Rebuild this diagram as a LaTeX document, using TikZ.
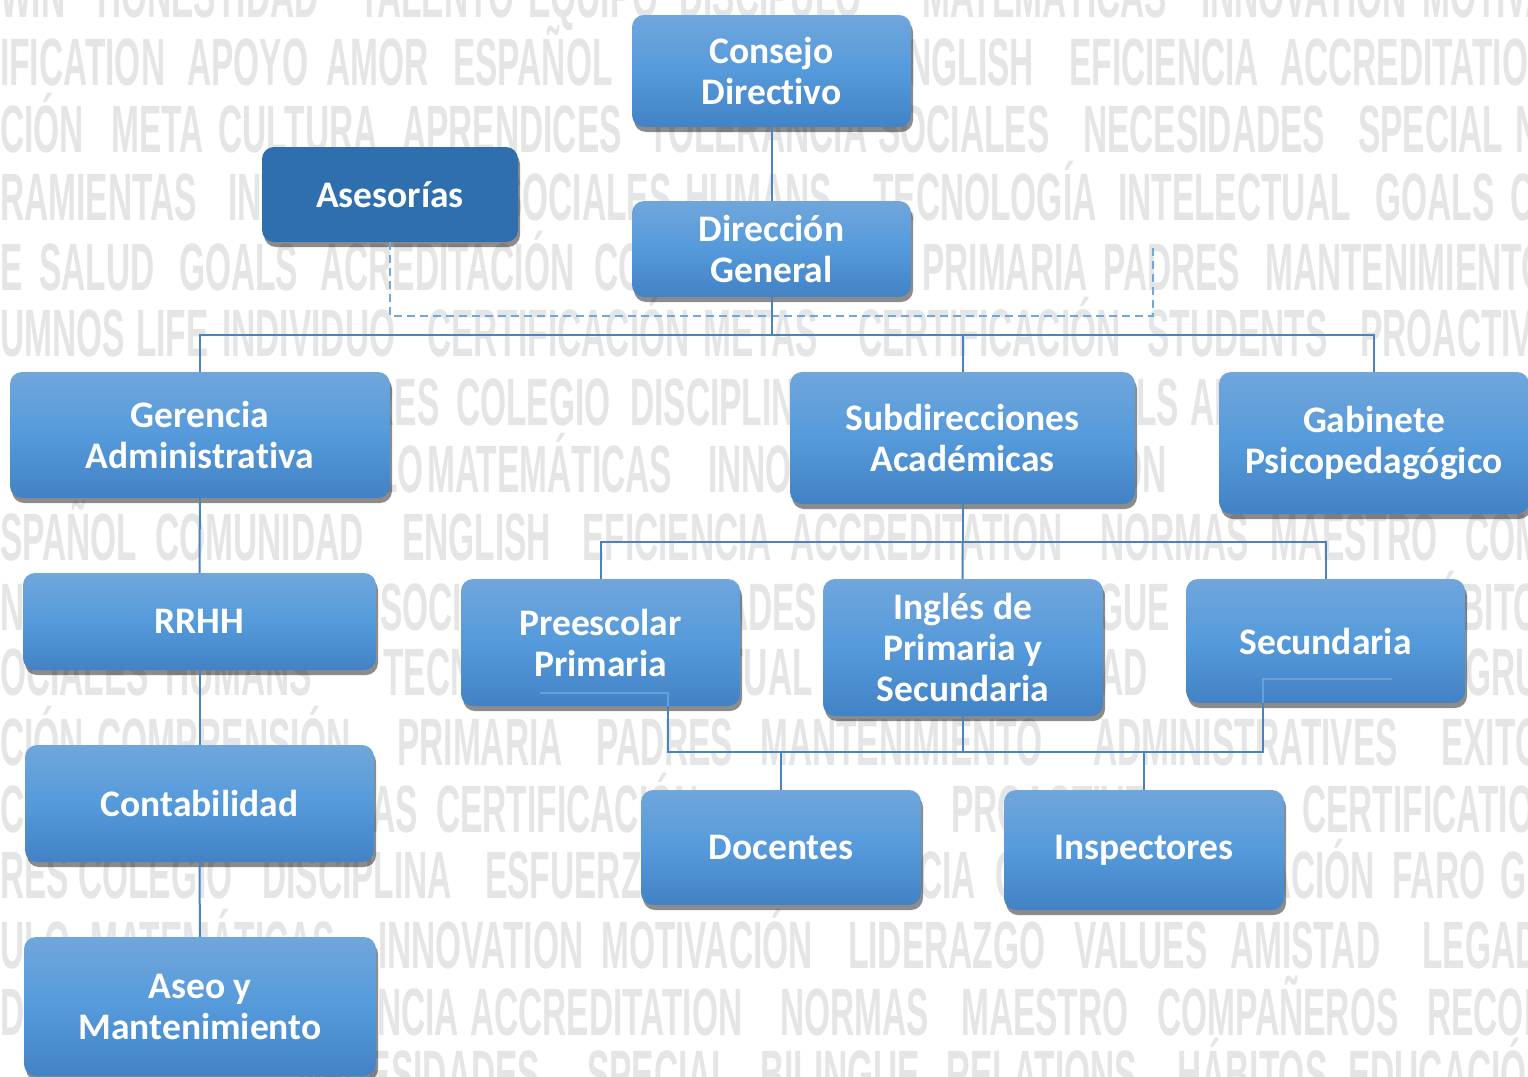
\documentclass[tikz,border=0pt]{standalone}
\usepackage{fontspec}
\usepackage{xcolor}
\usepackage{tikz}
\usetikzlibrary{positioning,shadows}

\newfontfamily\boxfont[Ligatures=NoCommon]{Carlito}
\newfontfamily\wallfont[FakeStretch=0.5]{Liberation Sans Bold}

\definecolor{boxtop}{HTML}{70A6DB}
\definecolor{boxmid}{HTML}{559ADB}
\definecolor{boxbot}{HTML}{4282C5}
\definecolor{advblue}{HTML}{2F6FAE}
\definecolor{linkblue}{HTML}{4A84BE}
\definecolor{dashblue}{HTML}{6FA8DC}
\definecolor{wallgray}{HTML}{E5E5E5}

\begin{document}
\begin{tikzpicture}[x=1pt,y=-1pt]
  \tikzstyle{unit}=[rounded corners=12pt,top color=boxtop,bottom color=boxbot,middle color=boxmid,
    text=white,align=center,inner sep=0pt,font=\boxfont\bfseries\fontsize{37.5}{41}\selectfont,
    drop shadow={shadow xshift=2pt,shadow yshift=-5pt,fill=black,opacity=0.45}]
  \tikzstyle{advice}=[rounded corners=12pt,fill=advblue,
    text=white,align=center,inner sep=0pt,font=\boxfont\bfseries\fontsize{37.5}{41}\selectfont,
    drop shadow={shadow xshift=2pt,shadow yshift=-5pt,fill=black,opacity=0.45}]
  \tikzstyle{link}=[draw=linkblue,line width=2pt]
  \tikzstyle{softlink}=[draw=dashblue,line width=2.6pt,dash pattern=on 8pt off 5pt]
  \tikzstyle{stub}=[draw=boxtop,line width=1.6pt,draw opacity=0.8]
  \tikzstyle{wall}=[anchor=base west,inner sep=0pt,text=wallgray,font=\wallfont\fontsize{67}{67}\selectfont]

  \useasboundingbox (0,0) rectangle (1528,1076);
  \fill[white] (0,0) rectangle (1528,1076);

  % words in the background
  \foreach \b/\row in {
    17/{0/WIN,97/HONESTIDAD,359/TALENTO,528/EQUIPO,679/DISCIPULO,922/MATEMÁTICAS,1201/INNOVATION,1422/MOTIVACIÓN},
    85/{0/IFICATION,187/APOYO,326/AMOR,453/ESPAÑOL,640/COMUNIDAD,885/ENGLISH,1069/EFICIENCIA,1280/ACCREDITATION},
    152/{0/CIÓN,111/META,218/CULTURA,402/APRENDICES,648/TOLERANCIA,878/SOCIALES,1083/NECESIDADES,1358/SPECIAL,1515/NORMAS},
    220/{0/RAMIENTAS,228/INTELIGENCIA,500/SOCIALES,685/HUMANS,873/TECNOLOGÍA,1118/INTELECTUAL,1375/GOALS,1510/CALIDAD},
    290/{0/E,39/SALUD,179/GOALS,320/ACREDITACIÓN,594/COMPRENSIÓN,922/PRIMARIA,1103/PADRES,1265/MANTENIMIENTO},
    356/{0/UMNOS,136/LIFE,222/INDIVIDUO,427/CERTIFICACIÓN,703/METAS,858/CERTIFICACIÓN,1147/STUDENTS,1360/PROACTIVE},
    425/{280/VALORES,456/COLEGIO,630/DISCIPLINA,1060/GOALS,1190/AMISTAD},
    492/{260/CÁLCULO,427/MATEMÁTICAS,708/INNOVATION,955/MOTIVACIÓN},
    560/{0/SPAÑOL,155/COMUNIDAD,402/ENGLISH,582/EFICIENCIA,790/ACCREDITATION,1100/NORMAS,1270/MAESTRO,1465/COMPAÑEROS},
    630/{0/N,380/SOCIALES,575/NECESIDADES,845/SPECIAL,1010/BILINGUE,1200/RELATIONS,1412/HÁBITOS},
    695/{0/OCIALES,165/HUMANS,383/TECNOLOGÍA,580/INTELECTUAL,997/CALIDAD,1465/GRUPO},
    765/{0/CIÓN,97/COMPRENSIÓN,397/PRIMARIA,596/PADRES,760/MANTENIMIENTO,1093/ADMINISTRATIVES,1441/EXITO},
    832/{0/C,303/METAS,436/CERTIFICACIÓN,951/PROACTIVE,1302/CERTIFICATION},
    898/{0/RES,78/COLEGIO,262/DISCIPLINA,485/ESFUERZO,760/EXCELENCIA,995/CALIDAD,1172/EDUCACIÓN,1392/FARO,1500/GRUPO},
    968/{0/ULO,90/MATEMÁTICAS,378/INNOVATION,601/MOTIVACIÓN,848/LIDERAZGO,1074/VALUES,1230/AMISTAD,1422/LEGADO},
    1035/{0/DA,269/EFICIENCIA,470/ACCREDITATION,780/NORMAS,961/MAESTRO,1157/COMPAÑEROS,1427/RECONOCIMIENTO},
    1097/{298/NECESIDADES,587/SPECIAL,760/BILINGUE,946/RELATIONS,1177/HÁBITOS,1348/EDUCACIÓN}}
    \foreach \x/\w in \row
      \node[wall] (word-\b-\x) at (\x,\b) {\w};

  \node[unit,minimum width=279pt,minimum height=112pt] (cd) at (771.5,71) {Consejo\\Directivo};
  \node[advice,minimum width=256pt,minimum height=95pt] (as) at (390,194.5) {Asesorías};
  \node[unit,minimum width=279pt,minimum height=96pt] (dg) at (771.5,249) {Dirección\\General};

  \node[unit,minimum width=380pt,minimum height=126pt] (ga) at (200,435) {Gerencia\\Administrativa};
  \node[unit,minimum width=345pt,minimum height=132pt] (sa) at (962.5,438) {Subdirecciones\\Académicas};
  \node[unit,minimum width=310pt,minimum height=142pt] (gp) at (1374,443) {Gabinete\\Psicopedagógico};

  \node[unit,minimum width=353pt,minimum height=97pt] (rh) at (199.5,621.5) {RRHH};
  \node[unit,minimum width=349pt,minimum height=117pt] (ct) at (199.5,803.5) {Contabilidad};
  \node[unit,minimum width=352pt,minimum height=139pt] (am) at (200,1006.5) {Aseo y\\Mantenimiento};

  \node[unit,minimum width=279pt,minimum height=127pt] (pp) at (600.5,642.5) {Preescolar\\Primaria};
  \node[unit,minimum width=280pt,minimum height=137pt] (ip) at (963,647.5) {Inglés de\\Primaria y\\Secundaria};
  \node[unit,minimum width=279pt,minimum height=124pt] (sc) at (1325.5,641) {Secundaria};

  \node[unit,minimum width=280pt,minimum height=115pt] (dc) at (781,847.5) {Docentes};
  \node[unit,minimum width=280pt,minimum height=120pt] (insp) at (1144,850) {Inspectores};

  \coordinate (busA) at (771.5,335);
  \coordinate (busB) at (962.5,542);
  \coordinate (busC) at (963,752);
  \coordinate (advA) at (1153,316);
  \coordinate (advB) at (1153,247);
  \coordinate (ppfoot) at (668,706);
  \coordinate (scfoot) at (1263,703);
  \coordinate (ppstub) at (540,693);
  \coordinate (scstub) at (1392,679);

  \draw[link] (cd) -- (dg);
  \draw[softlink] (as) |- (advA) -- (advB);
  \draw[link] (dg) -- (busA);
  \draw[link] (busA) -| (ga);
  \draw[link] (busA) -| (sa);
  \draw[link] (busA) -| (gp);

  \draw[link] (ga) -- (rh);
  \draw[link] (rh) -- (ct);
  \draw[link] (ct) -- (am);

  \draw[link] (sa) -- (busB);
  \draw[link] (busB) -| (pp);
  \draw[link] (busB) -- (ip);
  \draw[link] (busB) -| (sc);

  \draw[stub] (ppstub) -| (ppfoot);
  \draw[stub] (scstub) -| (scfoot);
  \draw[link] (ip) -- (busC);
  \draw[link] (ppfoot) |- (busC) -| (scfoot);
  \draw[link] (busC) -| (dc);
  \draw[link] (busC) -| (insp);
\end{tikzpicture}
\end{document}
